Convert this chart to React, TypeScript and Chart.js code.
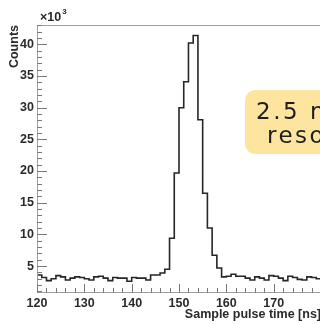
import React, { useEffect, useRef } from "react";
import { Chart, registerables } from "chart.js";

Chart.register(...registerables);

// Histogram: 1 ns bins starting at 120 ns, counts in units of 10^3
const binStart = 120;
const binWidth = 1;
const counts = [
  3.6, 3.2, 2.7, 3.0, 3.5, 3.3, 2.8, 3.1, 3.3, 3.2, // 120-129
  3.0, 2.8, 3.3, 3.4, 3.1, 2.7, 3.2, 3.1, 3.1, 2.6, // 130-139
  3.2, 3.1, 3.1, 2.8, 3.6, 3.6, 3.9, 4.5, 9.4, 19.7, // 140-149
  30.0, 34.1, 40.2, 41.4, 28.1, 16.5, 11.0, 6.7, 4.7, 3.3, // 150-159
  3.4, 3.7, 3.4, 3.4, 3.1, 2.8, 3.3, 3.1, 2.8, 3.5, // 160-169
  3.4, 3.1, 2.7, 3.4, 3.2, 2.9, 2.8, 3.3, 3.2, 3.0, // 170-179
];

const xRange = [120, 180];
const yRange = [0.75, 43.05];
const xTickValues = [120, 130, 140, 150, 160, 170];
const yTickValues = [5, 10, 15, 20, 25, 30, 35, 40];
const xMinorStep = 2;
const yMinorStep = 1;

const xTitle = "Sample pulse time [ns]";
const yTitle = "Counts";
const yMultiplier = ["×10", "3"];
const noteLines = ["2.5 ns time", "resolution"];

const LABEL_FONT = "bold 12.5px 'Liberation Sans', Arial, sans-serif";
const TEXT_COLOR = "#2a2a2a";
const FRAME_COLOR = "#a0a0a0";

// Frame, inward ticks, axis titles and the highlighted note box
const decorations = {
  id: "rootStyleDecorations",
  afterDraw(chart: any) {
    const { ctx, chartArea: a, scales } = chart;
    const xs = scales.x;
    const ys = scales.y;

    ctx.save();
    // frame
    ctx.strokeStyle = FRAME_COLOR;
    ctx.lineWidth = 1;
    ctx.beginPath();
    ctx.moveTo(a.left + 0.5, a.top + 0.5);
    ctx.lineTo(a.right, a.top + 0.5);
    ctx.moveTo(a.left + 0.5, a.top);
    ctx.lineTo(a.left + 0.5, a.bottom);
    ctx.moveTo(a.left, a.bottom - 0.5);
    ctx.lineTo(a.right, a.bottom - 0.5);
    ctx.moveTo(a.right - 0.5, a.top);
    ctx.lineTo(a.right - 0.5, a.bottom);
    ctx.stroke();

    // ticks
    ctx.strokeStyle = "#7a7a7a";
    ctx.beginPath();
    for (let v = Math.ceil(yRange[0]); v <= yRange[1]; v += yMinorStep) {
      const y = Math.round(ys.getPixelForValue(v)) + 0.5;
      const len = v % 5 === 0 ? 10 : 5;
      ctx.moveTo(a.left, y);
      ctx.lineTo(a.left + len, y);
    }
    for (let v = xRange[0]; v <= xRange[1]; v += xMinorStep) {
      const x = Math.round(xs.getPixelForValue(v)) + 0.5;
      const len = v % 10 === 0 ? 9 : 5;
      ctx.moveTo(x, a.bottom);
      ctx.lineTo(x, a.bottom - len);
    }
    ctx.stroke();

    // axis titles
    ctx.fillStyle = TEXT_COLOR;
    ctx.font = LABEL_FONT;
    ctx.textBaseline = "alphabetic";
    ctx.textAlign = "right";
    ctx.fillText(xTitle, a.right, a.bottom + 25);

    ctx.save();
    ctx.translate(18, a.top);
    ctx.rotate(-Math.PI / 2);
    ctx.textAlign = "right";
    ctx.fillText(yTitle, 0, 0);
    ctx.restore();

    ctx.textAlign = "left";
    ctx.fillText(yMultiplier[0], a.left + 3, a.top - 4);
    const w = ctx.measureText(yMultiplier[0]).width;
    ctx.font = "bold 8px 'Liberation Sans', Arial, sans-serif";
    ctx.fillText(yMultiplier[1], a.left + 3 + w + 1, a.top - 11);

    // note box
    const bx = 245;
    const by = 90;
    ctx.fillStyle = "#fde5a0";
    ctx.beginPath();
    ctx.roundRect(bx, by, 170, 64, 10);
    ctx.fill();
    ctx.fillStyle = "#1e1e1e";
    ctx.font = "23px 'DejaVu Sans', sans-serif";
    ctx.letterSpacing = "2.5px";
    ctx.textAlign = "left";
    ctx.fillText(noteLines[0], bx + 11, by + 28.5);
    ctx.fillText(noteLines[1], bx + 22, by + 53);
    ctx.letterSpacing = "0px";
    ctx.restore();
  },
};

export default function App() {
  const canvasRef = useRef<HTMLCanvasElement | null>(null);

  useEffect(() => {
    const canvas = canvasRef.current;
    if (!canvas) return;

    const points = counts.map((c, i) => ({ x: binStart + i * binWidth, y: c }));
    points.push({ x: binStart + counts.length * binWidth, y: counts[counts.length - 1] });

    const chart = new Chart(canvas, {
      type: "line",
      data: {
        datasets: [
          {
            data: points,
            stepped: "before",
            borderColor: "#262626",
            borderWidth: 1.6,
            pointRadius: 0,
            fill: false,
          },
        ],
      },
      options: {
        responsive: false,
        animation: false,
        events: [],
        layout: { padding: { top: 25, right: 99, left: 0, bottom: 0 } },
        plugins: { legend: { display: false }, tooltip: { enabled: false } },
        scales: {
          x: {
            type: "linear",
            min: xRange[0],
            max: xRange[1],
            grid: { display: false, drawTicks: false },
            border: { display: false },
            afterBuildTicks: (s: any) => {
              s.ticks = xTickValues.map((v) => ({ value: v }));
            },
            afterFit: (s: any) => {
              s.height = 31;
            },
            ticks: {
              autoSkip: false,
              maxRotation: 0,
              padding: 3,
              color: TEXT_COLOR,
              font: { family: "'Liberation Sans', Arial, sans-serif", size: 12.5, weight: "bold" },
              callback: (v: any) => String(v),
            },
          },
          y: {
            type: "linear",
            min: yRange[0],
            max: yRange[1],
            grid: { display: false, drawTicks: false },
            border: { display: false },
            afterBuildTicks: (s: any) => {
              s.ticks = yTickValues.map((v) => ({ value: v }));
            },
            afterFit: (s: any) => {
              s.width = 37;
            },
            ticks: {
              padding: 3,
              color: TEXT_COLOR,
              font: { family: "'Liberation Sans', Arial, sans-serif", size: 12.5, weight: "bold" },
              callback: (v: any) => String(v),
            },
          },
        },
      },
      plugins: [decorations],
    });

    return () => chart.destroy();
  }, []);

  return (
    <div
      style={{
        position: "fixed",
        left: 0,
        top: 0,
        width: 320,
        height: 324,
        overflow: "hidden",
        background: "#fff",
      }}
    >
      <canvas ref={canvasRef} width={420} height={324} style={{ width: 420, height: 324, display: "block" }} />
    </div>
  );
}
